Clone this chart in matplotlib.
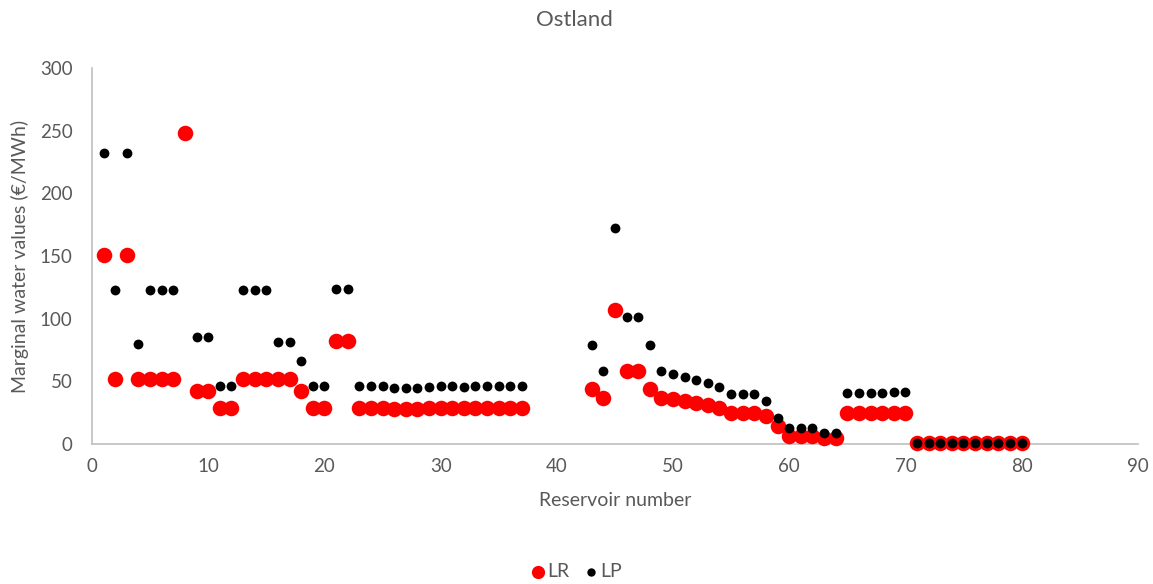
import numpy as np
import matplotlib.pyplot as plt

plt.rcParams['font.family'] = ['Lato', 'DejaVu Sans']

# reservoir numbers
res = list(range(1, 38)) + list(range(43, 81))

# LR values
lr = [151, 52, 151, 52, 52, 52, 52, 248, 42, 42,
      29, 29, 52, 52, 52, 52, 52, 42, 29, 29,
      82, 82, 29, 29, 29, 28, 28, 28, 28.5, 29,
      29, 29, 29, 29, 29, 29, 29,
      44, 37, 107, 58, 58, 44, 37, 35.6, 34, 33,
      31.4, 29, 25, 25, 25, 22.6, 14, 6, 6, 6,
      5, 5, 24.5, 24.5, 24.5, 24.5, 25, 25,
      0.5, 0.5, 0.5, 0.5, 0.5, 0.5, 0.5, 0.5, 0.5, 0.5]

# LP values (no value for reservoir 8)
lp = [232, 123, 232, 80, 123, 123, 123, np.nan, 85, 85,
      46, 46, 123, 123, 123, 81, 81, 66, 46, 46,
      124, 124, 46, 46, 46, 45, 45, 45, 45.5, 46,
      46, 45.5, 46, 46, 46, 46, 46,
      79, 58, 172, 101, 101, 79, 58, 56, 53.5, 51.3,
      49, 45.5, 39.6, 39.6, 39.6, 34, 21, 13, 13, 13,
      8.5, 8.5, 40.5, 40.5, 40.5, 41, 41.5, 41.5,
      0.5, 0.5, 0.5, 0.5, 0.5, 0.5, 0.5, 0.5, 0.5, 0.5]

txt = '#595959'

fig = plt.figure(figsize=(11.53, 5.84), dpi=100)
ax = fig.add_axes([0.0798, 0.2397, 0.907, 0.644])

ax.scatter(res, lr, s=125, color='#ff0000', label='LR', zorder=2, linewidths=0, clip_on=False)
ax.scatter(res, lp, s=50, color='black', label='LP', zorder=3, linewidths=0, clip_on=False)

ax.set_xlim(0, 90)
ax.set_ylim(0, 300)
ax.set_xticks(range(0, 91, 10))
ax.set_yticks(range(0, 301, 50))
ax.tick_params(length=0, labelsize=13.5, labelcolor=txt)
ax.tick_params(axis='x', pad=10)
ax.tick_params(axis='y', pad=14)

for s in ['top', 'right']:
    ax.spines[s].set_visible(False)
for s in ['left', 'bottom']:
    ax.spines[s].set_color('#bfbfbf')
    ax.spines[s].set_linewidth(1.2)
    ax.spines[s].set_zorder(1)

fig.text(0.498, 0.965, 'Ostland', fontsize=16, color=txt, ha='center', va='center')
ax.set_xlabel('Reservoir number', fontsize=14, color=txt, labelpad=12)
ax.set_ylabel('Marginal water values (€/MWh)', fontsize=14, color=txt, labelpad=8)

fig.legend(loc='center', bbox_to_anchor=(0.5, 0.022), ncol=2, frameon=False,
           fontsize=14, labelcolor=txt, handletextpad=0.1, columnspacing=0.8,
           handlelength=0.7, markerscale=0.85)

fig.savefig('out.png', dpi=100)
